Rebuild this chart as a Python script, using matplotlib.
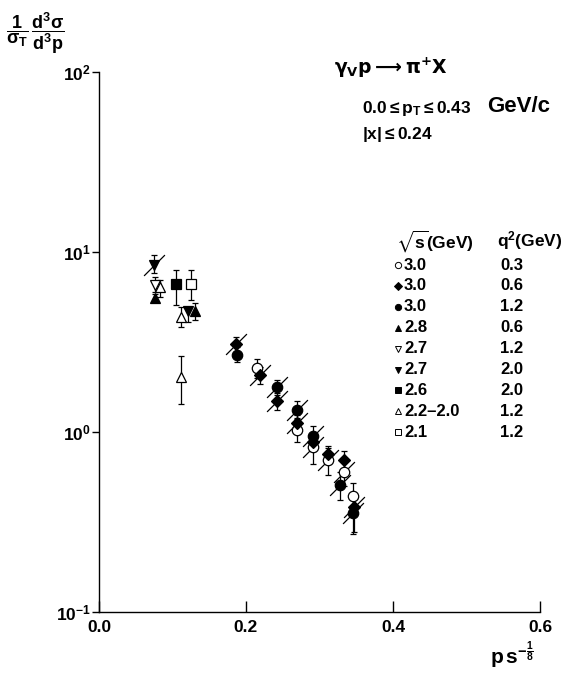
import matplotlib
matplotlib.use("Agg")
import matplotlib.pyplot as plt
import numpy as np
from matplotlib.path import Path

plt.rcParams['font.family'] = ['Liberation Sans', 'DejaVu Sans']
plt.rcParams['mathtext.fontset'] = 'custom'
plt.rcParams['mathtext.rm'] = 'Liberation Sans'
plt.rcParams['mathtext.it'] = 'Liberation Sans:bold'
plt.rcParams['mathtext.bf'] = 'Liberation Sans:bold'
plt.rcParams['mathtext.fallback'] = 'stixsans'

# ---------------- data ----------------
x_ticks = [0.0, 0.2, 0.4, 0.6]
x_tick_labels = ["0.0", "0.2", "0.4", "0.6"]
y_ticks = [0.1, 1.0, 10.0, 100.0]
y_tick_labels = [r"$\mathbf{10^{-1}}$", r"$\mathbf{10^{0}}$", r"$\mathbf{10^{1}}$", r"$\mathbf{10^{2}}$"]

sqrt_s_labels = ["3.0", "3.0", "3.0", "2.8", "2.7", "2.7", "2.6", "2.2\u20132.0", "2.1"]
q2_labels = ["0.3", "0.6", "1.2", "0.6", "1.2", "2.0", "2.0", "1.2", "1.2"]

# open circle: sqrt(s)=3.0, q2=0.3
oc_x = [0.2146, 0.270, 0.291, 0.312, 0.333, 0.346]
oc_y = [2.28, 1.03, 0.83, 0.70, 0.60, 0.44]
oc_lo = [2.00, 0.88, 0.66, 0.58, 0.50, 0.36]
oc_hi = [2.55, 1.20, 0.98, 0.82, 0.70, 0.52]
oc_sl = [0, 0, 1, 1, 1, 0]

# filled diamond: 3.0, 0.6
fd_x = [0.187, 0.219, 0.242, 0.270, 0.291, 0.312, 0.333, 0.347]
fd_y = [3.08, 2.07, 1.49, 1.12, 0.88, 0.755, 0.70, 0.385]
fd_lo = [2.80, 1.85, 1.33, 1.00, 0.78, 0.67, 0.62, 0.28]
fd_hi = [3.35, 2.30, 1.65, 1.25, 0.98, 0.84, 0.78, 0.45]
fd_sl = [1, 1, 1, 1, 0, 0, 0, 1]

# filled circle: 3.0, 1.2
fc_x = [0.188, 0.242, 0.270, 0.291, 0.328, 0.346]
fc_y = [2.68, 1.77, 1.32, 0.95, 0.51, 0.353]
fc_lo = [2.45, 1.60, 1.18, 0.85, 0.42, 0.27]
fc_hi = [2.95, 1.95, 1.48, 1.08, 0.60, 0.44]
fc_sl = [0, 1, 1, 1, 1, 1]

# filled up triangle: 2.8, 0.6
fu_x = [0.076, 0.131]
fu_y = [5.55, 4.70]
fu_lo = [5.25, 4.20]
fu_hi = [5.85, 5.20]

# open down triangle: 2.7, 1.2
od_x = [0.076]
od_y = [6.56]
od_lo = [6.00]
od_hi = [7.26]

# filled down triangle: 2.7, 2.0
fdt_x = [0.075, 0.121]
fdt_y = [8.50, 4.70]
fdt_lo = [7.60, 4.08]
fdt_hi = [9.60, 4.95]

# filled square: 2.6, 2.0
fs_x = [0.105]
fs_y = [6.64]
fs_lo = [5.08]
fs_hi = [7.94]

# open up triangle: 2.2-2.0, 1.2
ou_x = [0.083, 0.112, 0.112]
ou_y = [6.40, 4.35, 2.02]
ou_lo = [5.60, 3.83, 1.43]
ou_hi = [7.00, 4.95, 2.64]

# open square: 2.1, 1.2
os_x = [0.125]
os_y = [6.64]
os_lo = [5.41]
os_hi = [7.94]

# ---------------- figure ----------------
fig = plt.figure(figsize=(5.74, 6.94), dpi=100)
ax = fig.add_axes([99/574, 82/694, 441/574, 540/694])
ax.set_yscale('log')
ax.set_xlim(0.0, 0.6)
ax.set_ylim(0.1, 100)
for s in ['top', 'right']:
    ax.spines[s].set_visible(False)
for s in ['left', 'bottom']:
    ax.spines[s].set_linewidth(1.0)

ax.set_xticks(x_ticks)
ax.set_xticklabels(x_tick_labels, fontsize=12.5, fontweight='bold')
ax.set_yticks(y_ticks)
ax.set_yticklabels(y_tick_labels, fontsize=12.5)
ax.yaxis.set_minor_locator(matplotlib.ticker.NullLocator())
ax.tick_params(axis='x', direction='in', length=8, width=1.0, pad=6)
ax.tick_params(axis='y', direction='out', length=5, width=1.0, pad=1)

slash = Path([(-1, -1), (1, 1)], [Path.MOVETO, Path.LINETO])

def draw(xs, ys, lo, hi, marker, fill, ms, sl=None):
    xs = np.array(xs); ys = np.array(ys)
    yerr = np.vstack([ys - np.array(lo), np.array(hi) - ys])
    ax.errorbar(xs, ys, yerr=yerr, fmt='none', ecolor='black', elinewidth=0.9,
                capsize=2.5, capthick=0.9, zorder=2)
    if sl is not None:
        m = np.array(sl, dtype=bool)
        ax.plot(xs[m], ys[m], linestyle='none', marker=slash, markersize=15,
                markeredgewidth=0.9, color='black', zorder=2)
    ax.plot(xs, ys, linestyle='none', marker=marker, markersize=ms,
            markerfacecolor=('black' if fill else 'white'),
            markeredgecolor='black', markeredgewidth=0.9, zorder=3)

draw(oc_x, oc_y, oc_lo, oc_hi, 'o', False, 7.5, oc_sl)
draw(fd_x, fd_y, fd_lo, fd_hi, 'D', True, 6.5, fd_sl)
draw(fc_x, fc_y, fc_lo, fc_hi, 'o', True, 7.5, fc_sl)
draw(fu_x, fu_y, fu_lo, fu_hi, '^', True, 7.5)
draw(od_x, od_y, od_lo, od_hi, 'v', False, 7.5)
draw(fdt_x, fdt_y, fdt_lo, fdt_hi, 'v', True, 7.5, [1, 0])
draw(fs_x, fs_y, fs_lo, fs_hi, 's', True, 7.0)
draw(ou_x, ou_y, ou_lo, ou_hi, '^', False, 7.5)
draw(os_x, os_y, os_lo, os_hi, 's', False, 7.0)

# ---------------- legend ----------------
leg_markers = [('o', False), ('D', True), ('o', True), ('^', True), ('v', False),
               ('v', True), ('s', True), ('^', False), ('s', False)]
def fx(px):
    return (px - 99) / 441
def fy(py):
    return (612 - py) / 540

ax.text(fx(396), fy(241), r"$\mathbf{\sqrt{s}}$" + "(GeV)", transform=ax.transAxes,
        fontsize=12.5, fontweight='bold', va='center', ha='left')
ax.text(fx(497), fy(241), r"q$^{\mathbf{2}}$(GeV)", transform=ax.transAxes,
        fontsize=12.5, fontweight='bold', va='center', ha='left')
row_y0 = 265
row_dy = 20.9
for i, ((mk, fill), s_lab, q_lab) in enumerate(zip(leg_markers, sqrt_s_labels, q2_labels)):
    yy = fy(row_y0 + i * row_dy)
    ax.plot([fx(398)], [yy], transform=ax.transAxes, marker=mk, markersize=4.5,
            linestyle='none', markerfacecolor=('black' if fill else 'white'),
            markeredgecolor='black', markeredgewidth=0.7, clip_on=False)
    ax.text(fx(404), yy, s_lab, transform=ax.transAxes, fontsize=12,
            fontweight='bold', va='center', ha='left')
    ax.text(fx(500), yy, q_lab, transform=ax.transAxes, fontsize=12,
            fontweight='bold', va='center', ha='left')

# ---------------- annotations ----------------
fig.text(334/574, 1 - 68/694, r"$\mathbf{\gamma_{V}p \longrightarrow \pi^{+}X}$",
         fontsize=13.5, va='center', ha='left', math_fontfamily='dejavusans')
fig.text(362/574, 1 - 108/694, r"$\mathbf{0.0 \leq p_{T} \leq 0.43}$", fontsize=12.5,
         va='center', ha='left')
fig.text(487/574, 1 - 106/694, "GeV/c", fontsize=16, fontweight='bold',
         va='center', ha='left')
fig.text(362/574, 1 - 135/694, r"$\mathbf{|x| \leq 0.24}$", fontsize=12.5,
         va='center', ha='left')

fig.text(6/574, 1 - 33/694,
         r"$\mathbf{\dfrac{1}{\sigma_{T}}\,\dfrac{d^{3}\sigma}{d^{3}p}}$",
         fontsize=13, va='center', ha='left')

fig.text(490/574, 1 - 655/694, r"$\mathbf{p\,s^{-\frac{1}{8}}}$", fontsize=15,
         va='center', ha='left')

fig.savefig("out.png", dpi=100)
